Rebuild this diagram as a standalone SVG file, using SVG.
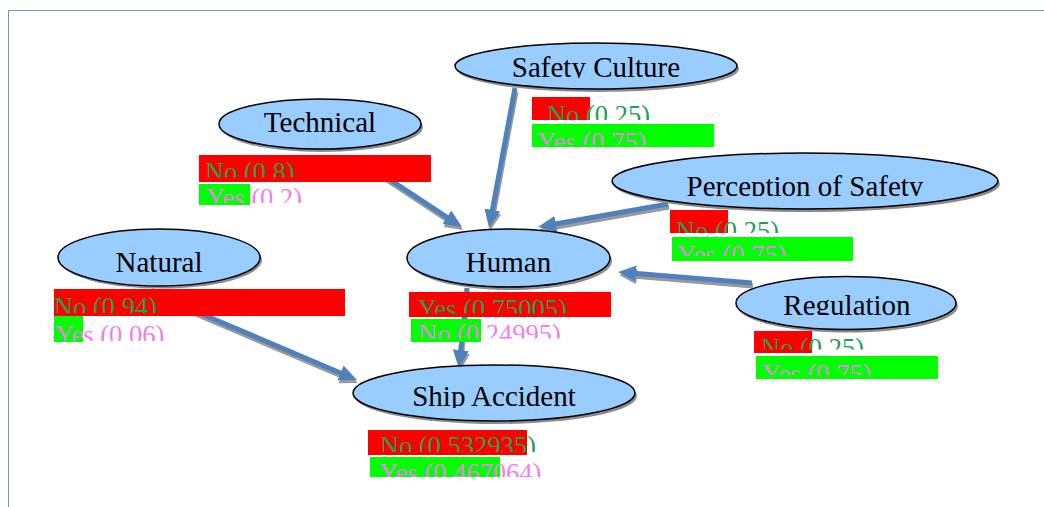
<svg xmlns="http://www.w3.org/2000/svg" width="1044" height="507" viewBox="0 0 1044 507">
<style>
.frame{stroke:#6f93c6;stroke-width:1;fill:none}
.node{fill:#99ccff;stroke:#000;stroke-width:1.5}
.shadow{fill:#8c8c8c}
.title{font-family:"Liberation Serif","Times New Roman",serif;font-size:29px;fill:#000;text-anchor:middle}
.lab{font-family:"Liberation Serif","Times New Roman",serif;font-size:26.5px}
.s1{fill:#1fa050}
.s2{fill:#f07ef0}
.red{fill:#ff0000}
.grn{fill:#00ff00}
.conn{stroke:#4f81bd;stroke-width:5;fill:none;marker-end:url(#ah)}
.connsh{stroke:#9a9a9a;stroke-width:5;fill:none;marker-end:url(#ahs)}
</style>
<defs>
<marker id="ah" markerUnits="userSpaceOnUse" markerWidth="20" markerHeight="18" refX="2" refY="8" orient="auto"><path d="M0,0 L18,8 L0,16 z" fill="#4f81bd"/></marker>
<marker id="ahs" markerUnits="userSpaceOnUse" markerWidth="20" markerHeight="18" refX="2" refY="8" orient="auto"><path d="M0,0 L18,8 L0,16 z" fill="#9a9a9a"/></marker>
<clipPath id="cSCt"><rect x="440" y="40" width="320" height="38"/></clipPath>
<clipPath id="cSC1"><rect x="530" y="97" width="200" height="23"/></clipPath>
<clipPath id="cSC2"><rect x="530" y="124" width="200" height="21"/></clipPath>
<clipPath id="cTE1"><rect x="199" y="155" width="240" height="22.5"/></clipPath>
<clipPath id="cTE2"><rect x="199" y="184" width="200" height="19"/></clipPath>
<clipPath id="cPEt"><rect x="600" y="150" width="410" height="46"/></clipPath>
<clipPath id="cPE1"><rect x="668" y="210" width="200" height="23"/></clipPath>
<clipPath id="cPE2"><rect x="668" y="237" width="200" height="19"/></clipPath>
<clipPath id="cNA1"><rect x="54" y="289" width="300" height="24"/></clipPath>
<clipPath id="cNA2"><rect x="54" y="316" width="200" height="25"/></clipPath>
<clipPath id="cHU1"><rect x="409" y="292" width="210" height="21.5"/></clipPath>
<clipPath id="cHU2"><rect x="409" y="319" width="210" height="19.5"/></clipPath>
<clipPath id="cREt"><rect x="720" y="270" width="260" height="45"/></clipPath>
<clipPath id="cRE1"><rect x="754" y="331" width="200" height="18.5"/></clipPath>
<clipPath id="cRE2"><rect x="754" y="356" width="200" height="19"/></clipPath>
<clipPath id="cSAt"><rect x="340" y="360" width="310" height="48"/></clipPath>
<clipPath id="cSA1"><rect x="366" y="430" width="220" height="22"/></clipPath>
<clipPath id="cSA2"><rect x="366" y="457" width="220" height="20"/></clipPath>
</defs>

<path class="frame" d="M8.5,507 V10.5 H1044"/>

<g id="connectors">
<line class="connsh" x1="516" y1="92" x2="493" y2="215"/>
<line class="conn" x1="515" y1="88" x2="492" y2="212"/>
<line class="connsh" x1="387" y1="180" x2="449.6" y2="221.3"/>
<line class="conn" x1="386" y1="177" x2="448.6" y2="218.3"/>
<line class="connsh" x1="669" y1="207" x2="554.8" y2="227.3"/>
<line class="conn" x1="668" y1="204" x2="553.8" y2="224.3"/>
<line class="connsh" x1="753" y1="286" x2="635" y2="276.2"/>
<line class="conn" x1="752" y1="283" x2="634" y2="273.2"/>
<line class="connsh" x1="191" y1="312" x2="343.3" y2="376.7"/>
<line class="conn" x1="190" y1="309" x2="342.3" y2="373.7"/>
<line class="connsh" x1="468" y1="291" x2="461.6" y2="355.1"/>
<line class="conn" x1="467" y1="288" x2="460.6" y2="352.1"/>
</g>

<g id="node-safety-culture">
<ellipse class="shadow" cx="598" cy="69" rx="141" ry="23"/>
<ellipse class="node" cx="596" cy="66" rx="141" ry="23"/>
<text class="title" x="596" y="77" clip-path="url(#cSCt)">Safety Culture</text>
<rect class="red" x="532" y="97" width="58" height="23"/>
<rect class="grn" x="532" y="124" width="182" height="23"/>
<text class="lab s1" x="547" y="124" clip-path="url(#cSC1)">No (0.25)</text>
<text class="lab s2" x="537" y="151" clip-path="url(#cSC2)">Yes (0.75)</text>
</g>

<g id="node-technical">
<ellipse class="shadow" cx="322" cy="127" rx="101" ry="25"/>
<ellipse class="node" cx="320" cy="124" rx="101" ry="25"/>
<text class="title" x="320" y="132">Technical</text>
<rect class="red" x="199" y="155" width="232" height="27"/>
<rect class="grn" x="199" y="184" width="51" height="21"/>
<text class="lab s1" x="205" y="181" clip-path="url(#cTE1)">No (0.8)</text>
<text class="lab s2" x="206" y="207" clip-path="url(#cTE2)">Yes (0.2)</text>
</g>

<g id="node-perception">
<ellipse class="shadow" cx="807" cy="184" rx="193" ry="28"/>
<ellipse class="node" cx="805" cy="181" rx="193" ry="28"/>
<text class="title" x="805" y="196" clip-path="url(#cPEt)">Perception of Safety</text>
<rect class="red" x="670" y="210" width="58" height="23"/>
<rect class="grn" x="672" y="237" width="181" height="24"/>
<text class="lab s1" x="676" y="240" clip-path="url(#cPE1)">No (0.25)</text>
<text class="lab s2" x="677" y="264" clip-path="url(#cPE2)">Yes (0.75)</text>
</g>

<g id="node-natural">
<ellipse class="shadow" cx="161" cy="260" rx="101" ry="28.5"/>
<ellipse class="node" cx="159" cy="257.5" rx="101" ry="28.5"/>
<text class="title" x="159" y="272">Natural</text>
<rect class="red" x="54" y="289" width="291" height="27"/>
<rect class="grn" x="54" y="316" width="29" height="26"/>
<text class="lab s1" x="54" y="316" clip-path="url(#cNA1)">No (0.94)</text>
<text class="lab s2" x="55" y="344" clip-path="url(#cNA2)">Yes (0.06)</text>
</g>

<g id="node-human">
<ellipse class="shadow" cx="510.5" cy="261" rx="101.5" ry="29"/>
<ellipse class="node" cx="508.5" cy="258" rx="101.5" ry="29"/>
<text class="title" x="508.5" y="272">Human</text>
<rect class="red" x="409" y="292" width="202" height="25"/>
<rect class="grn" x="411" y="319" width="70" height="23"/>
<text class="lab s1" x="418" y="318" clip-path="url(#cHU1)">Yes (0.75005)</text>
<text class="lab s2" x="418" y="343" clip-path="url(#cHU2)">No (0.24995)</text>
</g>

<g id="node-regulation">
<ellipse class="shadow" cx="848" cy="306" rx="110" ry="26.5"/>
<ellipse class="node" cx="846" cy="303" rx="110" ry="26.5"/>
<text class="title" x="847" y="315" clip-path="url(#cREt)">Regulation</text>
<rect class="red" x="754" y="331" width="58" height="22"/>
<rect class="grn" x="756" y="356" width="182" height="23"/>
<text class="lab s1" x="761" y="357" clip-path="url(#cRE1)">No (0.25)</text>
<text class="lab s2" x="762" y="383" clip-path="url(#cRE2)">Yes (0.75)</text>
</g>

<g id="node-ship-accident">
<ellipse class="shadow" cx="496" cy="396" rx="141" ry="28"/>
<ellipse class="node" cx="494" cy="393" rx="141" ry="28"/>
<text class="title" x="494" y="406" clip-path="url(#cSAt)">Ship Accident</text>
<rect class="red" x="368" y="430" width="159" height="25"/>
<rect class="grn" x="370" y="457" width="130" height="20"/>
<text class="lab s1" x="380" y="455" clip-path="url(#cSA1)">No (0.532935)</text>
<text class="lab s2" x="379" y="482" clip-path="url(#cSA2)">Yes (0.467064)</text>
</g>
</svg>
